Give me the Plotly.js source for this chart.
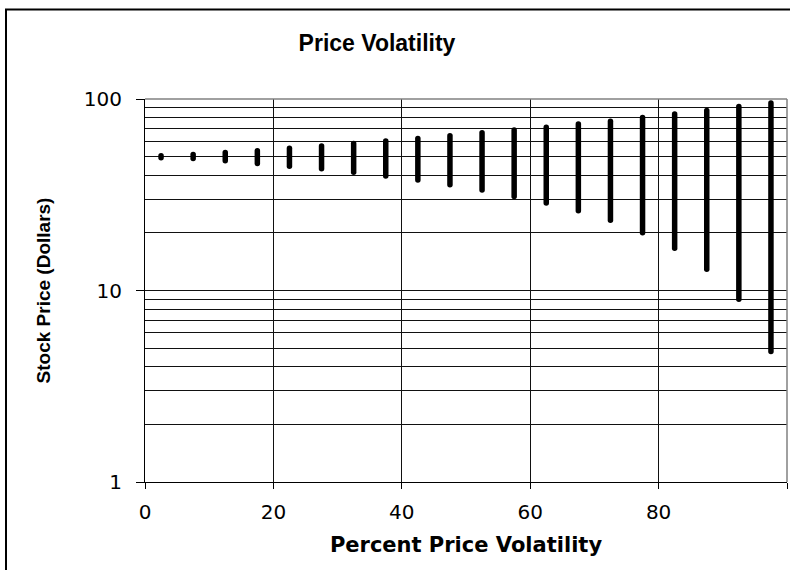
<!DOCTYPE html>
<html>
<head>
<meta charset="utf-8">
<script src="https://cdn.plot.ly/plotly-3.0.1.min.js"></script>
<style>
  html, body { margin: 0; padding: 0; background: #fff; }
  #chart { width: 790px; height: 570px; }
  .scatterlayer .js-line { stroke-linecap: round !important; }
</style>
</head>
<body>
<div id="chart"></div>
<script>
// Percent price volatility (x positions of the high-low bars)
const volatility = [2.5, 7.5, 12.5, 17.5, 22.5, 27.5, 32.5, 37.5, 42.5, 47.5,
                    52.5, 57.5, 62.5, 67.5, 72.5, 77.5, 82.5, 87.5, 92.5, 97.5];
// High and low stock prices (dollars)
const highPrice = [50.6, 51.3, 52.6, 53.7, 55.3, 56.9, 58.6, 60.3, 62.2, 64.3,
                   66.6, 68.9, 71.2, 74.0, 76.6, 80.1, 83.5, 87.2, 91.4, 95.2];
const lowPrice  = [49.4, 48.9, 47.6, 46.0, 44.6, 43.2, 41.4, 39.6, 37.8, 35.7,
                   33.5, 31.0, 28.6, 26.1, 23.3, 20.0, 16.6, 12.9, 9.0, 4.8];
// Axis ticks
const xTickVals = [0, 20, 40, 60, 80, 100];
const xTickText = ['0', '20', '40', '60', '80', ''];
const yTickVals = [1, 10, 100];
const yTickText = ['1', '10', '100'];
const yMinorVals = [2, 3, 4, 5, 6, 7, 8, 9, 20, 30, 40, 50, 60, 70, 80, 90];

// Build hi-lo segments
const segX = [], segY = [];
volatility.forEach((v, i) => {
  segX.push(v, v, null);
  segY.push(lowPrice[i], highPrice[i], null);
});

const traces = [{
  type: 'scatter',
  mode: 'lines',
  x: segX,
  y: segY,
  line: { color: '#000000', width: 5.5 },
  hoverinfo: 'skip',
  showlegend: false
}];

const W = 790, H = 570;
const L = 145, R = 3, T = 99, B = 88;
const pw = W - L - R, ph = H - T - B;
const px = p => (p - L) / pw;
const py = p => (H - B - p) / ph;

const layout = {
  width: W, height: H,
  margin: { l: L, r: R, t: T, b: B },
  paper_bgcolor: '#ffffff',
  plot_bgcolor: '#ffffff',
  showlegend: false,
  title: {
    text: 'Price Volatility',
    font: { family: 'Liberation Sans, Arial, sans-serif', size: 23, color: '#000', weight: 'bold' },
    xref: 'container', yref: 'container',
    x: 377 / W, y: 1 - 43 / H,
    xanchor: 'center', yanchor: 'middle'
  },
  xaxis: {
    range: [0, 100],
    tickmode: 'array', tickvals: xTickVals, ticktext: xTickText,
    ticks: 'outside', ticklen: 6, tickcolor: '#000', tickwidth: 1,
    ticklabelstandoff: 6,
    showgrid: true, gridcolor: '#111111', gridwidth: 1,
    showline: true, linecolor: '#000', linewidth: 1,
    zeroline: false,
    tickfont: { family: 'DejaVu Sans, sans-serif', size: 20, color: '#000' },
    title: {
      text: 'Percent Price Volatility',
      font: { family: 'DejaVu Sans, sans-serif', size: 21, color: '#000', weight: 'bold' },
      standoff: 14
    }
  },
  yaxis: {
    type: 'log',
    range: [0, 2],
    tickmode: 'array', tickvals: yTickVals, ticktext: yTickText,
    ticks: 'outside', ticklen: 8, tickcolor: '#000', tickwidth: 1,
    ticklabelstandoff: 10,
    showgrid: true, gridcolor: '#111111', gridwidth: 1,
    minor: { tickmode: 'array', tickvals: yMinorVals, showgrid: true, gridcolor: '#111111', gridwidth: 1, ticks: '' },
    showline: true, linecolor: '#000', linewidth: 1,
    zeroline: false,
    tickfont: { family: 'DejaVu Sans, sans-serif', size: 20, color: '#000' },
    title: {
      text: 'Stock Price (Dollars)',
      font: { family: 'Liberation Sans, Arial, sans-serif', size: 19, color: '#000', weight: 'bold' },
      standoff: 28
    }
  },
  shapes: [
    // plot area top and right border (gray)
    { type: 'line', xref: 'paper', yref: 'paper', x0: 0, x1: 1, y0: 1, y1: 1, line: { color: '#808080', width: 1.5 } },
    { type: 'line', xref: 'paper', yref: 'paper', x0: 1, x1: 1, y0: 0, y1: 1, line: { color: '#808080', width: 1.5 } },
    // outer chart border
    { type: 'rect', xref: 'paper', yref: 'paper', x0: px(6), x1: px(830), y0: py(620), y1: py(9.5),
      line: { color: '#000', width: 2 }, fillcolor: 'rgba(0,0,0,0)' }
  ]
};

Plotly.newPlot('chart', traces, layout, { staticPlot: true, displayModeBar: false });
</script>
</body>
</html>
